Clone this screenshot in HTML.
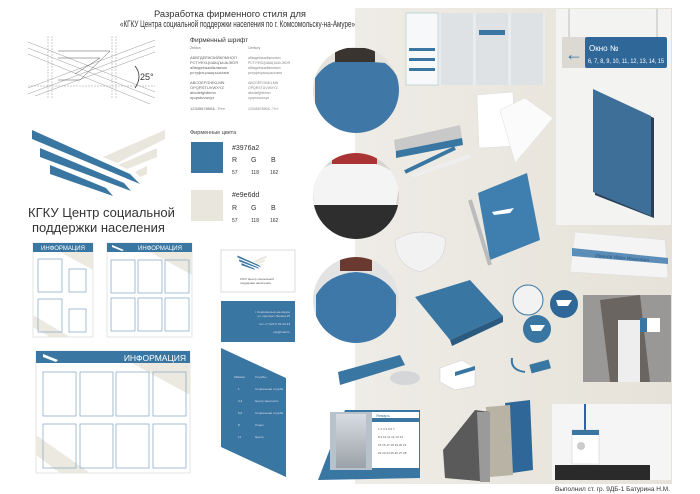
<!DOCTYPE html>
<html><head><meta charset="utf-8"><style>
html,body{margin:0;padding:0;background:#fff;width:700px;height:494px;overflow:hidden}
svg{display:block}
text{font-family:"Liberation Sans","DejaVu Sans",sans-serif}
</style></head><body>
<svg width="700" height="494" viewBox="0 0 700 494" xmlns="http://www.w3.org/2000/svg">
<defs>
<linearGradient id="bg" x1="0" x2="1"><stop offset="0" stop-color="#eeece6"/><stop offset="1" stop-color="#e6e2d9"/></linearGradient>
<linearGradient id="sky" x1="0" y1="0" x2="0" y2="1"><stop offset="0" stop-color="#d9dde2"/><stop offset="1" stop-color="#9aa1a8"/></linearGradient>
<clipPath id="c1"><circle cx="356" cy="90" r="43"/></clipPath>
<clipPath id="c2"><circle cx="356" cy="196" r="43"/></clipPath>
<clipPath id="c3"><circle cx="356" cy="300" r="43"/></clipPath>
<g id="logo"><polygon points="32,130 130,174 140,184 32,139" fill="#3976a2"/><polygon points="40,148 124,183 131,191 40,157" fill="#3976a2"/><polygon points="50,165 106,188 113,196 50,174" fill="#3976a2"/><polygon points="103,157 165,130 165,139 117,163" fill="#e9e6dd"/><polygon points="118,165 157,148 157,157 127,169" fill="#e9e6dd"/><polygon points="135,172 147,166 147,174 140,177" fill="#e9e6dd"/></g>
</defs>
<rect x="355" y="8" width="317" height="476" fill="url(#bg)"/>
<rect x="556" y="9" width="115" height="216" fill="#f3f3f1"/>
<text x="230" y="17" font-size="9" text-anchor="middle" fill="#333" textLength="152" lengthAdjust="spacingAndGlyphs">Разработка фирменного стиля для</text>
<text x="120" y="27" font-size="9" fill="#333" textLength="235" lengthAdjust="spacingAndGlyphs">«КГКУ Центра социальной поддержки населения по г. Комсомольску-на-Амуре»</text>
<g stroke="#999" stroke-width="0.5" fill="none">
<line x1="28" y1="42" x2="155" y2="92"/><line x1="28" y1="48" x2="155" y2="98"/><line x1="28" y1="54" x2="150" y2="104"/>
<line x1="28" y1="88" x2="155" y2="40"/><line x1="28" y1="94" x2="155" y2="46"/><line x1="35" y1="96" x2="155" y2="52"/>
<line x1="48" y1="36" x2="48" y2="98" stroke-dasharray="2,1"/><line x1="52" y1="36" x2="52" y2="98" stroke-dasharray="2,1"/>
<line x1="112" y1="36" x2="112" y2="98" stroke-dasharray="2,1"/><line x1="116" y1="36" x2="116" y2="98" stroke-dasharray="2,1"/>
<line x1="28" y1="86" x2="155" y2="86" stroke-dasharray="2,1"/>
<polyline points="58,51 110,51 80,80 58,80" stroke="#555"/><polyline points="58,58 100,58 75,74" stroke="#555"/>
<path d="M135,66 Q143,76 135,88" stroke="#333" stroke-width="0.8"/>
</g>
<text x="140" y="80" font-size="9" fill="#333">25°</text>
<text x="190" y="42" font-size="6.5" fill="#333">Фирменный шрифт</text>
<text x="190" y="49" font-size="3.5" fill="#777">Zekton</text>
<text x="248" y="49" font-size="3.5" fill="#777">Century</text>
<g font-size="4" fill="#666">
<text x="190" y="59">АБВГДЕЁЖЗИЙКЛМНОП</text><text x="190" y="64">РСТУФХЦЧШЩЪЫЬЭЮЯ</text><text x="190" y="69">абвгдеёжзийклмноп</text><text x="190" y="74">рстуфхцчшщъыьэюя</text>
<text x="190" y="84">ABCDEFGHIKLMN</text><text x="190" y="89">OPQRSTUVWXYZ</text><text x="190" y="94">abcdefghiklmn</text><text x="190" y="99">opqrstuvwxyz</text>
<text x="190" y="110">1234567890&amp;..?!«»</text>
</g>
<g font-size="3.5" fill="#888">
<text x="248" y="59">абвгдеёжзийклмноп</text><text x="248" y="64">РСТУФХЦЧШЩЪЫЬЭЮЯ</text><text x="248" y="69">абвгдеёжзийклмноп</text><text x="248" y="74">рстуфхцчшщъыьэюя</text>
<text x="248" y="84">ABCDEFGHIKLMN</text><text x="248" y="89">OPQRSTUVWXYZ</text><text x="248" y="94">abcdefghiklmn</text><text x="248" y="99">opqrstuvwxyz</text>
<text x="248" y="110">1234567890&amp;..?!«»</text>
</g>
<use href="#logo"/>
<text x="28" y="217" font-size="13" fill="#333">КГКУ Центр социальной</text>
<text x="32" y="232" font-size="13" fill="#333">поддержки населения</text>
<text x="190" y="134" font-size="5.5" fill="#444">Фирменные цвета</text>
<rect x="191" y="142" width="32" height="31" fill="#3976a2"/>
<text x="232" y="150" font-size="7" fill="#333">#3976a2</text>
<g font-size="7" fill="#333"><text x="232" y="162">R</text><text x="251" y="162">G</text><text x="271" y="162">B</text></g>
<g font-size="5" fill="#333"><text x="232" y="174">57</text><text x="251" y="174">118</text><text x="270" y="174">162</text></g>
<rect x="191" y="190" width="32" height="31" fill="#e9e6dd"/>
<text x="232" y="197" font-size="7" fill="#333">#e9e6dd</text>
<g font-size="7" fill="#333"><text x="232" y="210">R</text><text x="251" y="210">G</text><text x="271" y="210">B</text></g>
<g font-size="5" fill="#333"><text x="232" y="222">57</text><text x="251" y="222">118</text><text x="270" y="222">162</text></g>
<g>
<rect x="33" y="243" width="60" height="94" fill="#fff" stroke="#ccc" stroke-width="0.5"/>
<polygon points="60,252 93,252 93,270" fill="#ece9e1"/><polygon points="33,315 70,337 50,337 33,327" fill="#ece9e1"/>
<rect x="33" y="243" width="60" height="9" fill="#3976a2"/>
<text x="63" y="250" font-size="6" fill="#fff" text-anchor="middle">ИНФОРМАЦИЯ</text>
<g fill="none" stroke="#7fa4c3" stroke-width="0.7">
<rect x="38" y="259" width="24" height="33"/><rect x="69" y="269" width="17" height="23"/><rect x="38" y="299" width="24" height="33"/><rect x="69" y="309" width="17" height="23"/></g>
</g>
<g>
<rect x="107" y="243" width="85" height="94" fill="#fff" stroke="#ccc" stroke-width="0.5"/>
<polygon points="150,252 192,252 192,275" fill="#ece9e1"/>
<rect x="107" y="243" width="85" height="9" fill="#3976a2"/>
<polygon points="112,245 124,250 122,251 112,247" fill="#fff"/>
<text x="160" y="250" font-size="6" fill="#fff" text-anchor="middle">ИНФОРМАЦИЯ</text>
<g fill="none" stroke="#7fa4c3" stroke-width="0.7">
<rect x="111" y="260" width="24" height="33"/><rect x="138" y="260" width="24" height="33"/><rect x="165" y="260" width="24" height="33"/>
<rect x="111" y="298" width="24" height="33"/><rect x="138" y="298" width="24" height="33"/><rect x="165" y="298" width="24" height="33"/></g>
</g>
<g>
<rect x="36" y="351" width="154" height="122" fill="#fff" stroke="#ccc" stroke-width="0.5"/>
<polygon points="130,362 190,362 190,395" fill="#ece9e1"/><polygon points="36,435 90,473 60,473 36,455" fill="#ece9e1"/>
<rect x="36" y="351" width="154" height="12" fill="#3976a2"/>
<polygon points="43,354 58,360 56,362 43,357" fill="#fff"/>
<text x="186" y="361" font-size="8.5" fill="#fff" text-anchor="end">ИНФОРМАЦИЯ</text>
<g fill="none" stroke="#7fa4c3" stroke-width="0.7">
<rect x="43" y="372" width="33" height="44"/><rect x="80" y="372" width="33" height="44"/><rect x="116" y="372" width="33" height="44"/><rect x="153" y="372" width="33" height="44"/>
<rect x="43" y="424" width="33" height="44"/><rect x="80" y="424" width="33" height="44"/><rect x="116" y="424" width="33" height="44"/><rect x="153" y="424" width="33" height="44"/></g>
</g>
<rect x="221" y="250" width="74" height="42" fill="#fff" stroke="#bbb" stroke-width="0.5"/>
<g transform="translate(237,255) scale(0.22) translate(-30,-128)"><use href="#logo"/></g>
<text x="240" y="280" font-size="3" fill="#555">КГКУ Центр социальной</text>
<text x="240" y="284" font-size="3" fill="#555">поддержки населения</text>
<rect x="221" y="301" width="74" height="41" fill="#3976a2"/>
<g font-size="3" fill="#dde"><text x="290" y="313" text-anchor="end">г. Комсомольск-на-Амуре</text><text x="290" y="317" text-anchor="end">ул. проспект Ленина 25</text><text x="290" y="325" text-anchor="end">тел +7 (4217) 54-44-33</text><text x="290" y="333" text-anchor="end">csp@mail.ru</text></g>
<polygon points="221,348 286,378 286,477 221,447" fill="#3976a2"/>
<g font-size="3" fill="#dde"><text x="234" y="378">Кабинет</text><text x="255" y="378">Службы</text>
<text x="238" y="390">1</text><text x="255" y="390">Социальная служба</text><text x="238" y="402">3,4</text><text x="255" y="402">Центр занятости</text><text x="238" y="414">5,6</text><text x="255" y="414">Социальная служба</text><text x="238" y="426">8</text><text x="255" y="426">Отдел</text><text x="238" y="438">11</text><text x="255" y="438">Центр</text></g>
<!-- circles photos -->
<g clip-path="url(#c1)">
<rect x="300" y="40" width="120" height="100" fill="#e6e3dc"/>
<path d="M315,78 Q328,58 350,60 L385,63 Q398,72 402,90 L400,135 L315,135 Z" fill="#3f78a6"/>
<rect x="335" y="48" width="40" height="14" fill="#3a3430"/>
</g>
<g clip-path="url(#c2)">
<rect x="300" y="150" width="120" height="100" fill="#d6d4cf"/>
<path d="M312,178 Q325,160 356,162 Q388,162 400,180 L396,205 L314,205 Z" fill="#f4f4f4"/>
<path d="M312,205 L400,205 L400,240 L312,240 Z" fill="#2e2e2e"/>
<rect x="332" y="152" width="45" height="12" fill="#a33"/>
</g>
<g clip-path="url(#c3)">
<rect x="300" y="255" width="120" height="90" fill="#e3e3e3"/>
<path d="M316,295 Q328,274 356,272 Q384,274 396,295 L396,345 L316,345 Z" fill="#3e78a8"/>
<rect x="340" y="257" width="32" height="14" fill="#6a3a30"/>
</g>
<rect x="406" y="13" width="139" height="72" fill="#e8ecef"/>
<rect x="406" y="13" width="32" height="72" fill="#f7f8f9" stroke="#9bb" stroke-width="0.5"/>
<rect x="441" y="13" width="32" height="72" fill="#dfe2e5"/><rect x="476" y="13" width="32" height="72" fill="#dfe2e5"/><rect x="511" y="13" width="32" height="72" fill="#dfe2e5"/>
<g fill="#3976a2"><rect x="409" y="48" width="26" height="3"/><rect x="409" y="58" width="26" height="3"/><rect x="409" y="68" width="26" height="3"/><rect x="479" y="30" width="26" height="5"/></g>
<line x1="569" y1="9" x2="569" y2="38" stroke="#999" stroke-width="0.6"/><line x1="657" y1="9" x2="657" y2="38" stroke="#999" stroke-width="0.6"/>
<rect x="562" y="37" width="24" height="31" fill="#dcd9d2"/>
<rect x="585" y="37" width="82" height="31" rx="2" fill="#2f6898"/>
<text x="565" y="60" font-size="18" fill="#3976a2">←</text>
<text x="589" y="51" font-size="8" fill="#fff">Окно №</text>
<text x="588" y="63" font-size="6" fill="#fff" textLength="76" lengthAdjust="spacingAndGlyphs">6, 7, 8, 9, 10, 11, 12, 13, 14, 15</text>
<polygon points="595,92 654,118 654,218 595,195" fill="#2a3e55"/>
<polygon points="593,89 651,116 651,216 593,192" fill="#3e6f99"/>
<polygon points="477,95 513,92 515,146 479,148" fill="#fff" stroke="#ddd" stroke-width="0.5"/>
<polygon points="500,110 525,98 553,118 515,163" fill="#fbfbfb" stroke="#ddd" stroke-width="0.5"/>
<polygon points="394,140 460,125 463,145 396,156" fill="#c9c9c9"/>
<polygon points="396,151 462,138 463,145 396,158" fill="#3976a2"/>
<line x1="405" y1="172" x2="455" y2="148" stroke="#3976a2" stroke-width="4"/><line x1="412" y1="176" x2="470" y2="156" stroke="#eee" stroke-width="4"/>
<polygon points="478,193 527,173 540,240 490,260" fill="#3e7fb0"/>
<polygon points="492,212 514,208 510,213 494,215" fill="#fff"/>
<line x1="470" y1="200" x2="490" y2="265" stroke="#bbb" stroke-width="4"/>
<path d="M395,240 Q420,225 445,238 Q448,262 420,272 Q395,265 395,240 Z" fill="#f2f2f2" stroke="#ccc" stroke-width="0.5"/>
<polygon points="575,232 665,240 668,278 570,272" fill="#f4f4f4" stroke="#ddd" stroke-width="0.5"/>
<polygon points="572,248 668,258 668,264 572,256" fill="#5b8db6"/>
<text x="595" y="257" font-size="5" fill="#2f5d85" transform="rotate(5 595 257)">Иванов Иван Иванович</text>
<polygon points="415,297 470,280 503,316 450,340" fill="#3976a2"/>
<polygon points="450,340 503,316 503,322 452,346" fill="#2a5a80"/>
<circle cx="528" cy="300" r="15" fill="#f2f2f2" stroke="#3976a2" stroke-width="1"/>
<circle cx="564" cy="304" r="14" fill="#2f6898"/>
<circle cx="537" cy="329" r="14" fill="#3976a2"/>
<polygon points="556,300 572,300 568,306 558,306" fill="#fff"/><polygon points="530,325 545,325 541,331 532,331" fill="#fff"/>
<rect x="583" y="295" width="88" height="87" fill="#9a9896"/>
<polygon points="600,300 640,295 650,382 610,382" fill="#6b6562"/>
<rect x="618" y="320" width="22" height="62" fill="#eeeeee"/>
<rect x="640" y="318" width="20" height="14" fill="#fff"/><rect x="640" y="318" width="7" height="14" fill="#3976a2"/>
<polygon points="338,372 400,355 405,365 340,385" fill="#3976a2"/>
<ellipse cx="405" cy="378" rx="15" ry="7" fill="#d4d6d8"/>
<polygon points="440,368 462,360 475,368 475,386 455,390 440,382" fill="#fff" stroke="#ccc" stroke-width="0.5"/>
<polygon points="455,372 475,366 475,370 455,376" fill="#3976a2"/>
<rect x="530" y="362" width="20" height="9" fill="#3976a2" transform="rotate(-15 540 366)"/>
<path d="M512,358 Q510,370 525,372" stroke="#3976a2" stroke-width="2" fill="none"/>
<polygon points="318,480 345,410 420,410 420,478" fill="#3976a2"/>
<rect x="330" y="412" width="42" height="58" fill="#b8c2cb"/>
<rect x="336" y="414" width="30" height="54" fill="url(#sky)"/>
<rect x="372" y="412" width="47" height="56" fill="#fff"/>
<rect x="372" y="418" width="47" height="4" fill="#3976a2"/>
<text x="376" y="417" font-size="4" fill="#3976a2">Январь</text>
<g font-size="3" fill="#555"><text x="378" y="430">1  2  3  4  5  6  7</text><text x="378" y="438">8  9 10 11 12 13 14</text><text x="378" y="446">15 16 17 18 19 20 21</text><text x="378" y="454">22 23 24 25 26 27 28</text></g>
<polygon points="505,403 530,400 533,470 512,473" fill="#2f6898"/>
<polygon points="486,407 510,405 513,475 490,477" fill="#b8b3a4"/>
<polygon points="443,450 475,410 490,412 490,482 445,478" fill="#5a5a5a"/>
<polygon points="477,412 490,412 490,482 480,482" fill="#9a9a9a"/>
<rect x="552" y="404" width="119" height="76" fill="#f5f5f5"/>
<rect x="555" y="465" width="95" height="15" fill="#2a2a2a"/>
<line x1="585" y1="404" x2="585" y2="430" stroke="#2f5fb0" stroke-width="2"/>
<rect x="572" y="430" width="27" height="34" fill="#fff" stroke="#ccc" stroke-width="0.5"/>
<rect x="572" y="430" width="27" height="5" fill="#3976a2"/>
<circle cx="581" cy="446" r="4" fill="#ccc"/>
<text x="555" y="491" font-size="6" fill="#333" textLength="115" lengthAdjust="spacingAndGlyphs">Выполнил ст. гр. 9ДБ-1 Батурина Н.М.</text>
</svg>
</body></html>
